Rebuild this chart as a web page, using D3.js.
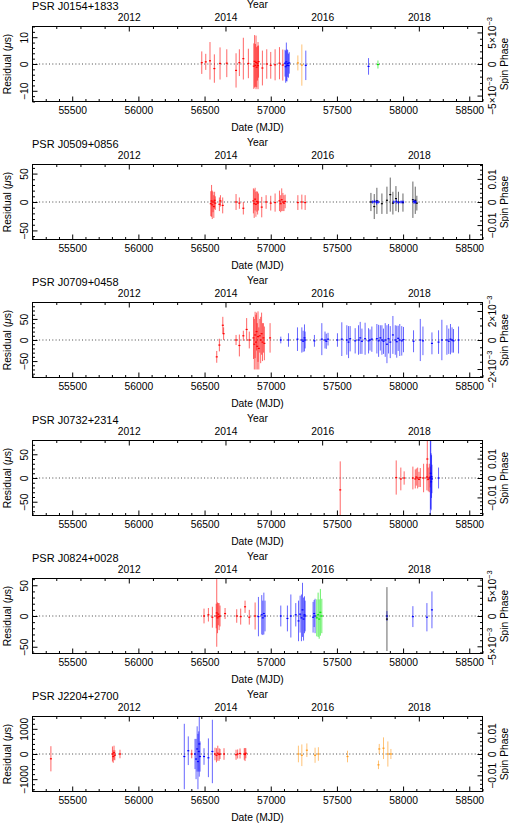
<!DOCTYPE html>
<html lang="en">
<head>
<meta charset="UTF-8">
<title>Pulsar timing residuals</title>
<style>
  body { margin: 0; background: #fff; }
  svg { display: block; font-family: "Liberation Sans", Arial, sans-serif; }
  .axis path { display: none; }
  .axis line { stroke: #000; }
  .axis text { font-size: 10.3px; fill: #000; font-family: "Liberation Sans", Arial, sans-serif; }
  .lbl { font-size: 10.3px; fill: #000; }
</style>
</head>
<body>
<script src="https://cdn.jsdelivr.net/npm/d3@7"></script>
<script>
// ---- chart values ----
const pulsarNames = ["PSR J0154+1833", "PSR J0509+0856", "PSR J0709+0458",
                     "PSR J0732+2314", "PSR J0824+0028", "PSR J2204+2700"];
const spinPeriodsMs = [2.3576, 4.0622, 34.4338, 4.0915, 9.8615, 84.7041];
const residualLimits = [14, 66, 89, 79, 61, 1490];   // +/- microseconds
const residualTickSteps = [10, 50, 50, 50, 50, 1000];
const phaseTickSteps = [5e-3, 0.01, 2e-3, 0.01, 5e-3, 0.01];
const mjdTicks = [55500, 56000, 56500, 57000, 57500, 58000, 58500];
const yearTicks = [2012, 2014, 2016, 2018];

// each row: [MJD, residual (us), error (us)]
const j0154Red = [
  [56479, 0.5, 4.2], [56509, 0.8, 3.0], [56541, 1.2, 7.0], [56574, -1.7, 5.3],
  [56617, 0.2, 6.0], [56668, 0.3, 5.2], [56738, -2.4, 6.4], [56763, 0.5, 5.0],
  [56793, 2.0, 7.8], [56831, 0.2, 5.5], [56872, -0.8, 8.5], [56878, 1.0, 9.8],
  [56884, -0.5, 8.0], [56889, 0.6, 10.0], [56894, -1.2, 7.5], [56899, 0.3, 6.5],
  [56904, -0.6, 8.8], [56908, 0.9, 6.0], [56937, -1.5, 6.5], [56970, 0.0, 5.5],
  [57000, -0.5, 5.0], [57033, -0.3, 5.8], [57066, 0.3, 6.0], [57091, -0.4, 5.8]
];
const j0154Blue = [
  [57108, 0.3, 5.0], [57113, -1.0, 6.0], [57118, 0.8, 7.2], [57123, -0.5, 6.0],
  [57128, 0.2, 5.0], [57134, -0.6, 4.5], [57140, 0.4, 4.0], [57265, -0.5, 5.5],
  [57739, -0.9, 3.1]
];
const j0154Orange = [[57205, 0.4, 2.8], [57235, -0.4, 7.7]];
const j0154Green = [[57810, -0.2, 1.5]];

const j0509Red = [
  [56547, -3, 22], [56553, 2, 28], [56558, -5, 25], [56564, 0, 18], [56570, -8, 20],
  [56576, 3, 15], [56581, -2, 12], [56612, -4, 12], [56620, 2, 10], [56637, -6, 14],
  [56738, 0, 14], [56763, -2, 10], [56793, -11, 11], [56869, 2, 22], [56875, -3, 25],
  [56882, 5, 20], [56888, -4, 22], [56895, 1, 18], [56901, -2, 20], [56907, 0, 15],
  [56932, -9, 18], [56965, 0, 12], [57000, -2, 13], [57033, -1, 16], [57066, 2, 18],
  [57075, -3, 15], [57083, 4, 20], [57092, 0, 16], [57100, -2, 14], [57109, 1, 12],
  [57205, -1, 13], [57235, 0, 13], [57260, -1, 13]
];
const j0509Black = [
  [57757, 0, 16], [57782, -8, 22], [57802, 2, 23], [57840, -3, 18], [57878, 3, 24],
  [57903, 13, 30], [57923, -2, 20], [57946, 6, 22], [57965, 0, 18], [57999, -1, 16],
  [58074, 4, 32], [58092, 3, 24], [58104, -2, 13]
];
const j0509Blue = [
  [57770, 0, 3], [57785, 1, 3], [57800, -1, 4], [57812, 0, 3], [57930, 0, 3],
  [57950, 1, 4], [57965, -1, 3], [57985, 0, 3], [58000, 0, 3], [58080, 1, 4],
  [58088, 0, 3], [58095, 0, 3]
];

const j0709Red = [
  [56592, -40, 14], [56612, -12, 15], [56638, 35, 20], [56644, 15, 15], [56738, 0, 12],
  [56763, -13, 26], [56793, 10, 12], [56818, 25, 27], [56838, 0, 20], [56870, 5, 50],
  [56876, -10, 60], [56882, 12, 55], [56888, -5, 65], [56893, 20, 45], [56898, -15, 55],
  [56904, 8, 60], [56910, -20, 50], [56917, 10, 40], [56924, 0, 55], [56931, 15, 50],
  [56938, -5, 45], [56945, 5, 35], [56952, -8, 40], [56995, 5, 35]
];
const j0709Blue = [
  [57076, 0, 8], [57134, 0, 16], [57202, 2, 28], [57235, 0, 30], [57245, -3, 25],
  [57255, 5, 32], [57260, 0, 20], [57330, -2, 14], [57386, 2, 38], [57410, 0, 20],
  [57420, -3, 18], [57433, 2, 15], [57504, 0, 16], [57537, 2, 40], [57575, 0, 35],
  [57588, -5, 38], [57600, 3, 30], [57638, -2, 30], [57663, 0, 35], [57676, 5, 38],
  [57689, -3, 30], [57713, 3, 38], [57739, -2, 30], [57750, 0, 25], [57764, 2, 30],
  [57802, 3, 35], [57815, -2, 38], [57828, 5, 30], [57840, 0, 35], [57852, -3, 30],
  [57865, 0, 40], [57878, -10, 45], [57890, 3, 35], [57903, -5, 38], [57923, 12, 45],
  [57941, 0, 35], [57952, -4, 38], [57963, 4, 30], [57975, 0, 38], [57990, -2, 35],
  [58003, 1, 30], [58079, -3, 26], [58130, 0, 50], [58150, -2, 34], [58218, -8, 26],
  [58268, -5, 28], [58293, 0, 48], [58331, 0, 35], [58345, -3, 30], [58358, 2, 36],
  [58370, 0, 30], [58381, -2, 28], [58419, 0, 32]
];

const j0732Red = [
  [57525, -25, 60], [57948, 1, 36], [57983, -2, 24], [58008, 0, 14], [58074, 0, 24],
  [58092, -2, 20], [58100, 2, 18], [58110, 0, 22], [58120, -3, 16], [58130, 1, 20],
  [58155, 0, 30], [58180, 2, 28], [58183, 40, 45], [58190, -3, 25], [58198, 0, 30],
  [58205, 2, 22]
];
const j0732Blue = [
  [58206, 0, 100], [58209, 10, 75], [58212, -8, 60], [58215, 3, 45], [58218, -2, 30],
  [58268, 0, 22]
];

const j0824Red = [
  [56496, 0, 12], [56529, 2, 11], [56559, -2, 17], [56588, 0, 20], [56592, 5, 55],
  [56598, -3, 25], [56604, 3, 18], [56610, -1, 22], [56617, 0, 17], [56655, 4, 9],
  [56743, 0, 11], [56773, -1, 13], [56806, 15, 10], [56838, -2, 12], [56882, 0, 22]
];
const j0824Blue = [
  [56907, -1, 32], [56932, 2, 32], [56940, -3, 28], [56948, 4, 34], [56957, 0, 25],
  [57076, 0, 17], [57126, -4, 21], [57152, 0, 35], [57189, 2, 19], [57210, -8, 33],
  [57222, 3, 30], [57232, -3, 38], [57240, 10, 44], [57248, -5, 35], [57255, 2, 30],
  [57260, 0, 25], [57320, -2, 25], [57328, 4, 22], [57335, 0, 28], [57878, 0, 8],
  [58074, -1, 17], [58180, -2, 23], [58218, 10, 30]
];
const j0824Green = [
  [57348, -3, 30], [57358, 2, 36], [57366, -5, 32], [57375, 6, 38], [57386, 0, 28]
];
const j0824Black = [[57878, -5, 52]];

const j2204Red = [
  [55339, -190, 500], [55804, 0, 300], [55810, -100, 250], [55816, 50, 280],
  [55822, -50, 200], [55861, 0, 170], [56403, 0, 170], [56579, 0, 250], [56590, -50, 280],
  [56600, 30, 300], [56610, -20, 250], [56617, 0, 200], [56647, 0, 230], [56738, -30, 200],
  [56750, 0, 180], [56768, 20, 200], [56800, 0, 230], [56806, -20, 260], [56812, 30, 200]
];
const j2204Blue = [
  [56347, -100, 1300], [56377, 130, 570], [56428, 0, 600], [56436, -200, 800],
  [56444, 200, 900], [56450, -300, 1100], [56456, 100, 800], [56460, 400, 1300],
  [56466, -100, 600], [56496, -100, 330], [56529, -150, 770], [56559, 100, 1260]
];
const j2204Orange = [
  [57209, 0, 330], [57235, -50, 430], [57273, 150, 270], [57335, -50, 300], [57360, 0, 270],
  [57580, -100, 230], [57814, -430, 170], [57820, 200, 200], [57852, 230, 430],
  [57885, 0, 500], [57908, 0, 200]
];

// ---- styles / layout ----
const RED = "#ff0000", BLUE = "#0000ff", ORANGE = "#ff9a1a", GREEN = "#00e600", BLACK = "#000000";
const panelSeries = [
  [[j0154Red, RED], [j0154Blue, BLUE], [j0154Orange, ORANGE], [j0154Green, GREEN]],
  [[j0509Red, RED], [j0509Black, BLACK], [j0509Blue, BLUE]],
  [[j0709Red, RED], [j0709Blue, BLUE]],
  [[j0732Red, RED], [j0732Blue, BLUE]],
  [[j0824Red, RED], [j0824Blue, BLUE], [j0824Green, GREEN], [j0824Black, BLACK]],
  [[j2204Red, RED], [j2204Blue, BLUE], [j2204Orange, ORANGE]]
];

const width = 509, height = 824;
const left = 32.5, right = 482.5, panelH = 75;

const svg = d3.select("body").append("svg")
  .attr("width", width).attr("height", height);
svg.append("rect").attr("width", width).attr("height", height).attr("fill", "#fff");

const x = d3.scaleLinear().domain([55200, 58600]).range([left, right]);
const mjdToYear = m => 2000 + (m - 51544.5) / 365.25;
const xYear = d3.scaleLinear().domain(x.domain().map(mjdToYear)).range([left, right]);

const mjdMinor = d3.range(55200, 58601, 100).filter(v => v % 500 !== 0);
const yearMinor = d3.range(2010, 2019.6, 0.5).filter(v => v % 2 !== 0)
  .filter(v => xYear(v) > left + 1 && xYear(v) < right - 1);

function phaseLabel(text, v, step) {
  if (v === 0) { text.text("0"); return; }
  const sign = v < 0 ? "\u2212" : "";
  if (step >= 0.01) { text.text(sign + d3.format(".2f")(Math.abs(v))); return; }
  const m = Math.round(Math.abs(v) / 1e-3);
  text.text(null);
  text.append("tspan").text(sign + m + "\u00d710");
  text.append("tspan").attr("dy", -4).attr("font-size", "7.5px").text("\u22123");
}

pulsarNames.forEach((name, i) => {
  const top = Math.round(27.3 + i * 137.9) - 0.5;
  const bottom = top + panelH;
  const midY = (top + bottom) / 2;
  const lim = residualLimits[i];
  const pUs = spinPeriodsMs[i] * 1000;
  const rStep = residualTickSteps[i];
  const pStep = phaseTickSteps[i];

  const y = d3.scaleLinear().domain([-lim, lim]).range([bottom, top]);
  const yPhase = d3.scaleLinear().domain([-lim / pUs, lim / pUs]).range([bottom, top]);

  const g = svg.append("g");

  g.append("clipPath").attr("id", "clip" + i)
    .append("rect").attr("x", left).attr("y", top)
    .attr("width", right - left).attr("height", panelH);

  // zero line
  g.append("line")
    .attr("x1", left).attr("x2", right)
    .attr("y1", y(0)).attr("y2", y(0))
    .attr("stroke", "#333").attr("stroke-width", 0.9)
    .attr("stroke-dasharray", "1,2.3");

  // residuals with error bars
  const plot = g.append("g").attr("clip-path", `url(#clip${i})`);
  panelSeries[i].forEach(([rows, color]) => {
    const s = plot.append("g");
    s.selectAll("line").data(rows).join("line")
      .attr("x1", d => x(d[0])).attr("x2", d => x(d[0]))
      .attr("y1", d => y(d[1] - d[2])).attr("y2", d => y(d[1] + d[2]))
      .attr("stroke", color).attr("stroke-width", 1).attr("stroke-opacity", 0.6);
    s.selectAll("rect").data(rows).join("rect")
      .attr("x", d => x(d[0]) - 1).attr("y", d => y(d[1]) - 0.6)
      .attr("width", 2).attr("height", 1.2)
      .attr("fill", color);
  });

  // frame
  g.append("rect").attr("x", left).attr("y", top)
    .attr("width", right - left).attr("height", panelH)
    .attr("fill", "none").attr("stroke", "#000").attr("stroke-width", 1);

  // bottom MJD axis
  g.append("g").attr("class", "axis").attr("transform", `translate(0,${bottom})`)
    .call(d3.axisBottom(x).tickValues(mjdTicks).tickSize(-5).tickSizeOuter(0)
      .tickPadding(4.7).tickFormat(d3.format("d")));
  g.append("g").attr("class", "axis").attr("transform", `translate(0,${bottom})`)
    .call(d3.axisBottom(x).tickValues(mjdMinor).tickSize(-2.5).tickSizeOuter(0).tickFormat(""));

  // top year axis
  g.append("g").attr("class", "axis").attr("transform", `translate(0,${top})`)
    .call(d3.axisTop(xYear).tickValues(yearTicks).tickSize(-5).tickSizeOuter(0)
      .tickPadding(6).tickFormat(d3.format("d")));
  g.append("g").attr("class", "axis").attr("transform", `translate(0,${top})`)
    .call(d3.axisTop(xYear).tickValues(yearMinor).tickSize(-2.5).tickSizeOuter(0).tickFormat(""));

  // left residual axis
  const rMinor = d3.range(-Math.floor(lim / (rStep / 5)), Math.floor(lim / (rStep / 5)) + 1)
    .map(k => k * rStep / 5).filter(v => Math.abs(v % rStep) > 1e-9);
  g.append("g").attr("class", "axis").attr("transform", `translate(${left},0)`)
    .call(d3.axisLeft(y).tickValues([-rStep, 0, rStep]).tickSize(-5).tickSizeOuter(0)
      .tickFormat(d3.format("d")))
    .selectAll("text")
      .attr("x", 0).attr("y", -5).attr("dy", null)
      .attr("text-anchor", "middle").attr("transform", "rotate(-90)");
  g.append("g").attr("class", "axis").attr("transform", `translate(${left},0)`)
    .call(d3.axisLeft(y).tickValues(rMinor).tickSize(-2.5).tickSizeOuter(0).tickFormat(""));

  // right spin phase axis
  const pMinorStep = pStep === 2e-3 ? 5e-4 : pStep / 5;
  const pLim = lim / pUs;
  const pMinor = d3.range(-Math.floor(pLim / pMinorStep + 1e-9), Math.floor(pLim / pMinorStep + 1e-9) + 1)
    .map(k => k * pMinorStep)
    .filter(v => Math.abs(Math.round(v / pStep) * pStep - v) > 1e-9);
  const rAxis = g.append("g").attr("class", "axis").attr("transform", `translate(${right},0)`)
    .call(d3.axisRight(yPhase).tickValues([-pStep, 0, pStep]).tickSize(-5).tickSizeOuter(0));
  rAxis.selectAll("text")
    .attr("x", 0).attr("y", 13).attr("dy", null)
    .attr("text-anchor", "middle").attr("transform", "rotate(-90)")
    .each(function (d) { phaseLabel(d3.select(this), d, pStep); });
  g.append("g").attr("class", "axis").attr("transform", `translate(${right},0)`)
    .call(d3.axisRight(yPhase).tickValues(pMinor).tickSize(-2.5).tickSizeOuter(0).tickFormat(""));

  // labels
  g.append("text").attr("class", "lbl").attr("x", left - 0.5).attr("y", top - 16.5)
    .style("font-size", "11px").text(name);
  g.append("text").attr("class", "lbl").attr("x", (left + right) / 2).attr("y", top - 18.2)
    .attr("text-anchor", "middle").text("Year");
  g.append("text").attr("class", "lbl").attr("x", (left + right) / 2).attr("y", bottom + 29)
    .attr("text-anchor", "middle").text("Date (MJD)");
  const rl = g.append("text").attr("class", "lbl").attr("text-anchor", "middle")
    .attr("transform", `translate(11,${midY}) rotate(-90)`);
  rl.append("tspan").text("Residual (");
  rl.append("tspan").style("font-style", "italic").text("\u03bc");
  rl.append("tspan").text("s)");
  g.append("text").attr("class", "lbl").attr("text-anchor", "middle")
    .attr("transform", `translate(507.5,${midY}) rotate(-90)`)
    .text("Spin Phase");
});
</script>
</body>
</html>
